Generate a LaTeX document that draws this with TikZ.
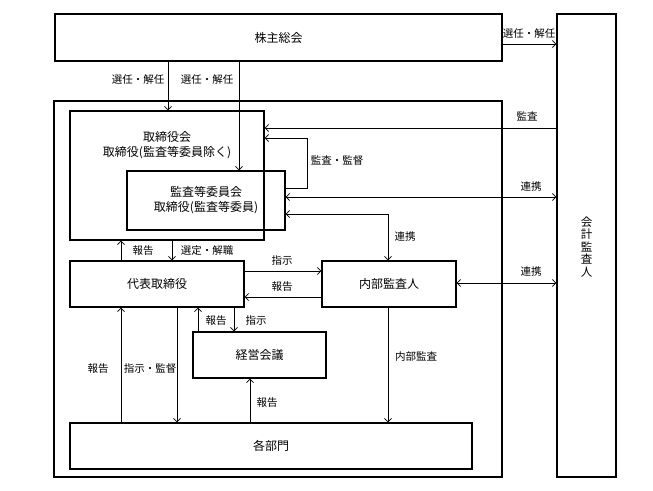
\documentclass[tikz,border=0pt]{standalone}
\usepackage{fontspec}
\setmainfont{Noto Sans CJK JP}
\usetikzlibrary{arrows.meta,calc}
\begin{document}
\begin{tikzpicture}[x=1pt,y=-1pt,
  box/.style={draw,line width=1.2pt,inner sep=0pt,font=\fontsize{12}{15}\selectfont,align=center},
  arr/.style={line width=0.8pt,-{Straight Barb[length=3.5pt,width=7pt]}},
  darr/.style={line width=0.8pt,{Straight Barb[length=3.5pt,width=7pt]}-{Straight Barb[length=3.5pt,width=7pt]}},
  lbl/.style={font=\fontsize{10.5}{12}\selectfont,inner sep=1pt},
  txt/.style={font=\fontsize{12}{15.5}\selectfont,align=center,inner sep=0pt}]
\useasboundingbox[fill=white] (0,0) rectangle (653,490);
% boxes
\node[box,minimum width=447pt,minimum height=47pt] (gm) at (278.5,37.5) {株主総会};
\node[box,minimum width=59pt,minimum height=463pt] (aud) at (586.5,245.5) {};
\node[txt,font=\fontsize{11.5}{12.5}\selectfont] (audtxt) at (586.5,247) {会\\計\\監\\査\\人};
\node[box,minimum width=448pt,minimum height=376pt] (outer) at (278,289) {};
\node[box,minimum width=194pt,minimum height=129pt] (bod) at (167,175.5) {};
\node[txt] (bodtxt) at (167,145) {取締役会\\取締役(監査等委員除く)};
\node[box,minimum width=158pt,minimum height=59pt] (ac) at (206,200.5) {監査等委員会\\取締役(監査等委員)};
\node[box,minimum width=174pt,minimum height=46pt] (rep) at (157,284) {代表取締役};
\node[box,minimum width=134pt,minimum height=46pt] (ia) at (389,284) {内部監査人};
\node[box,minimum width=133pt,minimum height=46pt] (mm) at (259.5,355) {経営会議};
\node[box,minimum width=402pt,minimum height=46pt] (dept) at (271,446) {各部門};
% connectors
\draw[arr] (gm.east |- 0,44) -- (aud.west |- 0,44);
\node[lbl] (l1) at (529,34) {選任・解任};
\draw[arr] (gm.south -| 168,0) -- (bod.north -| 168,0);
\node[lbl] (l2) at (138,80) {選任・解任};
\draw[arr] (gm.south -| 239,0) -- (ac.north -| 239,0);
\node[lbl] (l3) at (207,80) {選任・解任};
\draw[arr] (aud.west |- 0,128) -- (bod.east |- 0,128);
\node[lbl] (l4) at (527,116) {監査};
\draw[arr] (ac.east |- 0,188) -- (307,188) -- (307,138) -- (bod.east |- 0,138);
\node[lbl] (l5) at (337,161) {監査・監督};
\draw[darr] (ac.east |- 0,197) -- (aud.west |- 0,197);
\node[lbl] (l6) at (531,187) {連携};
\draw[darr] (ac.east |- 0,214) -- (388,214) -- (ia.north -| 388,0);
\node[lbl] (l7) at (405,237) {連携};
\draw[arr] (rep.north -| 121,0) -- (bod.south -| 121,0);
\node[lbl] (l8) at (143,251) {報告};
\draw[arr] (bod.south -| 172,0) -- (rep.north -| 172,0);
\node[lbl] (l9) at (207,251) {選定・解職};
\draw[arr] (rep.east |- 0,271) -- (ia.west |- 0,271);
\node[lbl] (l10) at (282,261) {指示};
\draw[arr] (ia.west |- 0,297) -- (rep.east |- 0,297);
\node[lbl] (l11) at (282,287) {報告};
\draw[darr] (ia.east |- 0,283) -- (aud.west |- 0,283);
\node[lbl] (l12) at (531,272) {連携};
\draw[arr] (mm.north -| 198,0) -- (rep.south -| 198,0);
\node[lbl] (l13) at (216,321) {報告};
\draw[arr] (rep.south -| 234,0) -- (mm.north -| 234,0);
\node[lbl] (l14) at (256,321) {指示};
\draw[arr] (dept.north -| 121,0) -- (rep.south -| 121,0);
\node[lbl] (l15) at (98,369) {報告};
\draw[arr] (rep.south -| 177,0) -- (dept.north -| 177,0);
\node[lbl] (l16) at (150,369) {指示・監督};
\draw[arr] (dept.north -| 250,0) -- (mm.south -| 250,0);
\node[lbl] (l17) at (267,403) {報告};
\draw[arr] (ia.south -| 388,0) -- (dept.north -| 388,0);
\node[lbl] (l18) at (416,357) {内部監査};
\end{tikzpicture}
\end{document}
